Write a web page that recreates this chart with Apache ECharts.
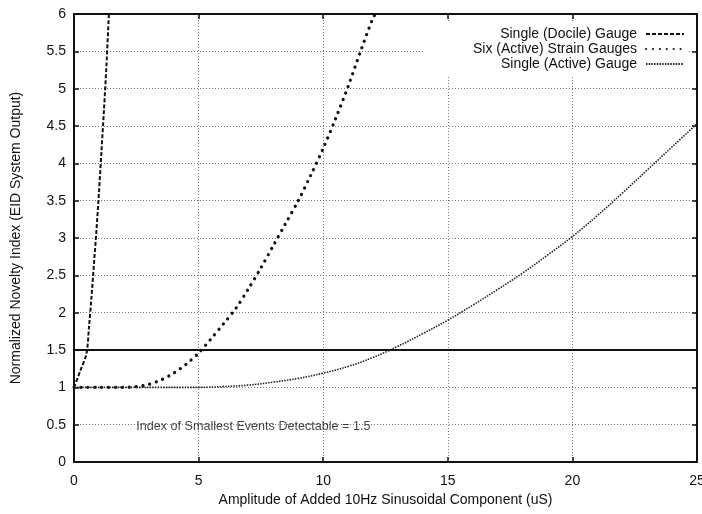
<!DOCTYPE html>
<html>
<head>
<meta charset="utf-8">
<script src="https://cdn.jsdelivr.net/npm/echarts@6/dist/echarts.min.js"></script>
<style>
  html, body { margin: 0; padding: 0; background: #fff; }
  #chart { width: 702px; height: 514px; }
</style>
</head>
<body>
<div id="chart"></div>
<script>
// Novelty index against added sinusoid amplitude, three gauge configurations
const docileX = [0, 0.25, 0.5, 0.6, 0.7, 0.8, 0.9, 1.0, 1.1, 1.2, 1.3, 1.4];
const docileY = [1, 1.22, 1.45, 1.8, 2.2, 2.65, 3.1, 3.6, 4.15, 4.7, 5.3, 6.0];

const sixX = [0, 1, 2, 2.5, 3, 3.5, 4, 4.5, 5, 5.5, 6, 6.5, 7, 7.5, 8, 8.5, 9, 9.5, 10, 10.5, 11, 11.5, 12, 12.1];
const sixY = [1, 1, 1, 1.01, 1.04, 1.1, 1.19, 1.31, 1.46, 1.65, 1.85, 2.06, 2.32, 2.6, 2.9, 3.2, 3.5, 3.84, 4.2, 4.6, 5.03, 5.5, 5.95, 6.0];

const activeX = [0, 2, 4, 5, 6, 7, 8, 9, 10, 11, 12, 13, 14, 15, 16, 17, 18, 19, 20, 21, 22, 23, 24, 25];
const activeY = [1, 1, 1, 1, 1.01, 1.03, 1.07, 1.12, 1.19, 1.28, 1.4, 1.55, 1.72, 1.9, 2.1, 2.31, 2.53, 2.77, 3.02, 3.3, 3.6, 3.91, 4.22, 4.53];

const threshold = 1.5;
const thresholdX = [0, 25];
const labelAt = [2.5, 0.47];

const seriesNames = ['Single (Docile) Gauge', 'Six (Active) Strain Gauges', 'Single (Active) Gauge'];
const xTitle = 'Amplitude of Added 10Hz Sinusoidal Component (uS)';
const yTitle = 'Normalized Novelty Index (EID System Output)';

const pair = (xs, ys) => xs.map((x, i) => [x, ys[i]]);
const FONT = '"Liberation Sans", Arial, sans-serif';
const INK = '#111';

const chart = echarts.init(document.getElementById('chart'), null, { renderer: 'canvas' });

const frameLine = { show: true, onZero: false, lineStyle: { color: INK, width: 2 } };
const tickCommon = { show: true, inside: true, length: 5, lineStyle: { color: INK, width: 1.5 } };
const gridDots = { show: true, lineStyle: { color: '#777', width: 1, type: [1, 2] } };

chart.setOption({
  animation: false,
  backgroundColor: '#fff',
  textStyle: { fontFamily: FONT, color: INK },
  grid: { left: 74, right: 5, top: 14, bottom: 52, containLabel: false, outerBoundsMode: 'none' },
  legend: {
    orient: 'vertical',
    right: 13,
    top: 23,
    align: 'right',
    itemWidth: 38,
    itemHeight: 12,
    itemGap: 1,
    padding: [4, 4, 4, 50],
    backgroundColor: '#fff',
    itemStyle: { opacity: 0 },
    formatter: name => name + ' ',
    textStyle: { fontFamily: FONT, fontSize: 14, color: INK },
    data: seriesNames
  },
  xAxis: [{
    type: 'value', min: 0, max: 25, interval: 5,
    name: xTitle, nameLocation: 'middle', nameGap: 28,
    nameTextStyle: { fontFamily: FONT, fontSize: 14, color: INK },
    axisLine: frameLine,
    axisTick: tickCommon,
    axisLabel: { fontFamily: FONT, fontSize: 14, color: INK, margin: 12 },
    splitLine: gridDots
  }, {
    type: 'value', min: 0, max: 25, interval: 5, position: 'top',
    axisLine: frameLine,
    axisTick: tickCommon, axisLabel: { show: false }, splitLine: { show: false }
  }],
  yAxis: [{
    type: 'value', min: 0, max: 6, interval: 0.5,
    name: yTitle, nameLocation: 'middle', nameGap: 51,
    nameTextStyle: { fontFamily: FONT, fontSize: 14, color: INK },
    axisLine: frameLine,
    axisTick: tickCommon,
    axisLabel: { fontFamily: FONT, fontSize: 14, color: INK, margin: 8 },
    splitLine: gridDots
  }, {
    type: 'value', min: 0, max: 6, interval: 0.5, position: 'right',
    axisLine: frameLine,
    axisTick: tickCommon, axisLabel: { show: false }, splitLine: { show: false }
  }],
  series: [
    {
      name: seriesNames[0], type: 'line', symbol: 'none', smooth: 0.3,
      data: pair(docileX, docileY),
      lineStyle: { color: INK, width: 2, type: [4, 2] },
      itemStyle: { color: INK }
    },
    {
      name: seriesNames[1], type: 'line', symbol: 'none', smooth: 0.3,
      data: pair(sixX, sixY),
      lineStyle: { color: INK, width: 3.2, type: [0.1, 6.8], cap: 'round' },
      itemStyle: { color: INK }
    },
    {
      name: seriesNames[2], type: 'line', symbol: 'none', smooth: 0.4,
      data: pair(activeX, activeY),
      lineStyle: { color: '#222', width: 1.6, type: [1.5, 1.2] },
      itemStyle: { color: INK }
    },
    {
      name: 'threshold', type: 'line', symbol: 'none', silent: true,
      data: thresholdX.map(x => [x, threshold]),
      lineStyle: { color: INK, width: 1.8 }
    },
    {
      name: 'note', type: 'scatter', symbolSize: 0, silent: true,
      data: [labelAt],
      label: {
        show: true, position: 'right', distance: 0,
        formatter: 'Index of Smallest Events Detectable = ' + threshold,
        fontFamily: FONT, fontSize: 12.6, color: INK
      }
    }
  ]
});
</script>
</body>
</html>
